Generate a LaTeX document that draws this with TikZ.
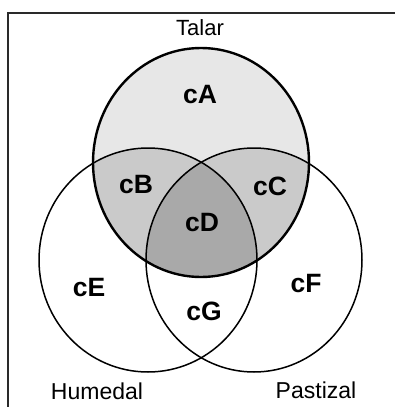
\documentclass[tikz,border=0pt]{standalone}
\usepackage{fontspec}
\setmainfont{Liberation Sans}
\definecolor{lightg}{HTML}{E7E7E7}
\definecolor{midg}{HTML}{CACACA}
\definecolor{darkg}{HTML}{A9A9A9}
\definecolor{framec}{HTML}{2A2A2A}
\begin{document}
\begin{tikzpicture}[x=1pt,y=-1pt,
  region/.style={font=\fontsize{26.5}{26.5}\selectfont\bfseries, anchor=base, inner sep=0pt},
  setname/.style={font=\fontsize{23}{23}\selectfont, anchor=base, inner sep=0pt},
  thinc/.style={draw=black, line width=1.5pt},
  thickc/.style={draw=black, line width=2.4pt}]
\useasboundingbox (0,0) rectangle (395,407);
\fill[white] (0,0) rectangle (395,407);
% frame
\draw[framec, line width=2.2pt] (395,13) -- (8,13) -- (8,407);
% fills
\fill[lightg] (201,162.5) ellipse [x radius=108, y radius=114.5];
\begin{scope}
  \clip (201,162.5) ellipse [x radius=108, y radius=114.5];
  \fill[midg] (148,260) ellipse [x radius=109, y radius=112];
  \fill[midg] (254,260) ellipse [x radius=108, y radius=112];
  \clip (148,260) ellipse [x radius=109, y radius=112];
  \fill[darkg] (254,260) ellipse [x radius=108, y radius=112];
\end{scope}
% outlines
\draw[thinc] (148,260) ellipse [x radius=109, y radius=112];
\draw[thinc] (254,260) ellipse [x radius=108, y radius=112];
\draw[thickc] (201,162.5) ellipse [x radius=108, y radius=114.5];
% labels
\node[setname, font=\fontsize{22}{22}\selectfont] (talar) at (200,35) {Talar};
\node[setname] (humedal) at (97,399) {Humedal};
\node[setname] (pastizal) at (316,398) {Pastizal};
\node[region] (cA) at (200,103) {cA};
\node[region] (cB) at (136,193) {cB};
\node[region] (cC) at (270,195) {cC};
\node[region] (cD) at (202,231) {cD};
\node[region] (cE) at (89,296) {cE};
\node[region] (cF) at (306,292) {cF};
\node[region] (cG) at (204,320) {cG};
\end{tikzpicture}
\end{document}
